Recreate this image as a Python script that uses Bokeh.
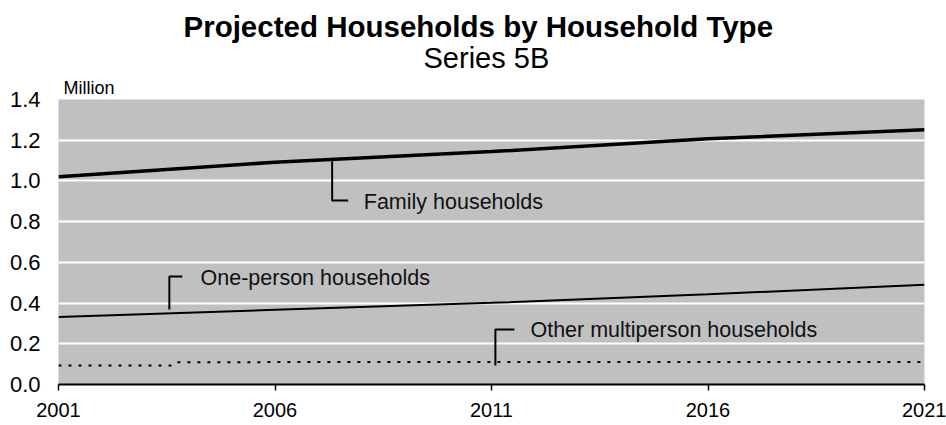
from bokeh.plotting import figure
from bokeh.models import (ColumnDataSource, FixedTicker, PrintfTickFormatter,
                          Range1d, Title)
from bokeh.core.properties import value
from bokeh.embed import file_html
from bokeh.resources import INLINE

# ---- data ----
years = [2001, 2006, 2011, 2016, 2021]
family = [1.020, 1.092, 1.144, 1.207, 1.252]
one_person = [0.331, 0.367, 0.401, 0.443, 0.490]
other_years = [2001, 2003.6, 2003.7, 2006, 2011, 2016, 2021]
other = [0.093, 0.093, 0.109, 0.110, 0.110, 0.111, 0.111]

y_ticks = [0.0, 0.2, 0.4, 0.6, 0.8, 1.0, 1.2, 1.4]
x_ticks = [2001, 2006, 2011, 2016, 2021]

# annotation labels: text, leader path (years, values), text anchor
label_texts = ["Family households", "One-person households", "Other multiperson households"]
leader_xs = [[2007.32, 2007.32, 2007.69], [2003.56, 2003.56, 2003.86], [2011.09, 2011.09, 2011.53]]
leader_ys = [[1.097, 0.904, 0.904], [0.368, 0.530, 0.530], [0.093, 0.270, 0.270]]
label_x = [2008.05, 2004.28, 2011.90]
label_y = [0.897, 0.522, 0.266]

FONT = "Liberation Sans"

p = figure(width=946, height=425, output_backend="svg", toolbar_location=None,
           x_range=Range1d(2001, 2021), y_range=Range1d(0, 1.4),
           min_border_left=58, min_border_right=22, min_border_top=99,
           min_border_bottom=41)

p.background_fill_color = "#C0C0C0"
p.border_fill_color = "white"
p.outline_line_color = None

# titles (first added sits nearest the frame)
unit = Title(text="Million", align="left", offset=5, standoff=4,
             text_font=FONT, text_font_size="18px", text_font_style="normal",
             text_color="black")
sub = Title(text="Series 5B", align="left", offset=365, standoff=-1,
            text_font=FONT, text_font_size="29px", text_font_style="normal",
            text_color="black")
main = Title(text="Projected Households by Household Type", align="left", offset=125,
             standoff=-4, text_font=FONT, text_font_size="29.5px",
             text_font_style="bold", text_color="black")
p.add_layout(unit, "above")
p.add_layout(sub, "above")
p.add_layout(main, "above")

# grid
p.xgrid.grid_line_color = None
p.ygrid.ticker = FixedTicker(ticks=y_ticks)
p.ygrid.grid_line_color = "white"
p.ygrid.grid_line_width = 2

# axes
p.yaxis.ticker = FixedTicker(ticks=y_ticks)
p.yaxis.formatter = PrintfTickFormatter(format="%.1f")
p.yaxis.axis_line_color = None
p.yaxis.major_tick_line_color = None
p.yaxis.minor_tick_line_color = None
p.yaxis.major_tick_out = 0
p.yaxis.major_tick_in = 0
p.yaxis.major_label_standoff = 18
p.yaxis.major_label_text_font = FONT
p.yaxis.major_label_text_font_size = "22px"
p.yaxis.major_label_text_color = "black"

p.xaxis.ticker = FixedTicker(ticks=x_ticks)
p.xaxis.axis_line_color = "black"
p.xaxis.axis_line_width = 2
p.xaxis.major_tick_line_color = "black"
p.xaxis.major_tick_line_width = 1.5
p.xaxis.major_tick_out = 6
p.xaxis.major_tick_in = 0
p.xaxis.minor_tick_line_color = None
p.xaxis.major_label_standoff = 12
p.xaxis.major_label_text_font = FONT
p.xaxis.major_label_text_font_size = "20px"
p.xaxis.major_label_text_color = "black"

# series
p.line(years, family, line_color="black", line_width=3.5)
p.line(years, one_person, line_color="black", line_width=2)
p.line(other_years, other, line_color="black", line_width=2, line_dash="3 7")

# leaders and labels
p.multi_line(xs=leader_xs, ys=leader_ys, line_color="black", line_width=2)
src = ColumnDataSource(dict(x=label_x, y=label_y, t=label_texts))
p.text(x="x", y="y", text="t", source=src, text_font=value(FONT),
       text_font_size="21.5px", text_baseline="middle", text_align="left",
       text_color="#111111")

open("out.html", "w").write(file_html(p, INLINE))
